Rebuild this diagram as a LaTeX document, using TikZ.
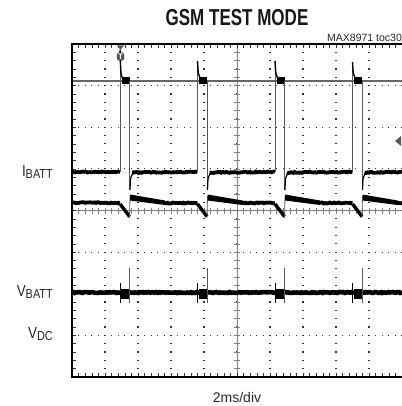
\documentclass[tikz,border=0pt]{standalone}
\usepackage{fontspec}
\setmainfont{Liberation Sans}
\usetikzlibrary{decorations.pathmorphing}

\tikzset{
  trace/.style={line width=3.8pt, decorate, decoration={random steps, segment length=1.5pt, amplitude=0.5pt}},
  edge/.style={gray!70!black, line width=0.8pt},
  lbl/.style={anchor=east, inner sep=0pt, text=black!85, font=\fontsize{16}{16}\selectfont, xscale=0.84}
}

\begin{document}
\begin{tikzpicture}[x=1pt,y=-1pt]
\useasboundingbox (0,0) rectangle (401,406);

\foreach \i in {1,...,9}
  \foreach \k in {0,...,40}
    \fill[black!80] (72+33*\i-0.6, 44+8.325*\k-0.6) rectangle ++(1.2,1.2);
\foreach \j in {1,...,7}
  \foreach \k in {0,...,50}
    \fill[black!80] (72+6.6*\k-0.6, 44+41.625*\j-0.6) rectangle ++(1.2,1.2);

\draw[gray, line width=0.8pt] (72,210.5) -- (402,210.5);
\draw[gray, line width=0.8pt] (237,44) -- (237,377);
\foreach \k in {1,...,49} {
  \draw[gray, line width=0.6pt] (72+6.6*\k,207.5) -- ++(0,6);
  \draw[black!80, line width=0.6pt] (72+6.6*\k,44) -- ++(0,4);
  \draw[black!80, line width=0.6pt] (72+6.6*\k,377) -- ++(0,-4);
}
\foreach \k in {1,...,39} {
  \draw[gray, line width=0.6pt] (234,44+8.325*\k) -- ++(6,0);
  \draw[black!80, line width=0.6pt] (72,44+8.325*\k) -- ++(4,0);
}

\draw[gray!80!black, line width=1.2pt] (72,81) -- (402,81);

\begin{scope}
\clip (72,44) rectangle (402,377);
\draw[trace] (72,172) -- (120,172);
\draw[trace] (72,202.5) -- (120,203);
\draw[trace, line width=4.6pt] (72,292.5) -- (402,292.5);
\foreach \p/\t in {120/50,197.5/61,275/61,352.5/62} {
  \draw[edge] (\p,172) -- (\p,\t);
  \draw[line width=1.4pt] (\p,\t) .. controls (\p+0.8,75) .. (\p+3,79);
  \fill (\p+1.5,77.5) rectangle (\p+9.5,84);
  \draw[edge] (\p+9.5,81) -- (\p+9.5,190);
  \draw[line width=1.2pt] (\p+10,190) .. controls (\p+10.5,176) .. (\p+14,173);
  \draw[trace] (\p+12,172.5) -- (\p+77.5,172);
  \draw[line width=3.4pt] (\p,204) -- (\p+9.5,216.5);
  \draw[edge] (\p+9.5,218) -- (\p+10,196);
  \fill (\p+10,194.5) -- (\p+45,200.5) -- (\p+45,205) -- (\p+10,200.5) -- cycle;
  \draw[trace] (\p+44,203) -- (\p+77.5,203);
  \fill (\p+1,289) rectangle (\p+9,299);
  \draw[line width=0.8pt] (\p,283) -- (\p,303);
  \draw[edge] (\p+9.5,268) -- (\p+9.5,303);
}
\end{scope}

\draw[line width=2pt] (402,44) -- (72,44) -- (72,377) -- (402,377);

\fill[gray!70!black] (117,45.5) -- (124,45.5) -- (120.5,50) -- cycle;
\node[draw=black!80, fill=gray!70!black, rounded corners=1.5pt, inner sep=1pt, text=white,
  font=\bfseries\fontsize{8}{8}\selectfont] (trig) at (120.5,56.5) {T};
\fill[gray!70!black] (395,141) -- (401,136) -- (401,146) -- cycle;

\node[font=\bfseries\fontsize{21}{21}\selectfont, xscale=0.81, yscale=1.1, text=black!90] (title) at (237,18) {GSM TEST MODE};
\node[anchor=west, inner sep=0pt, text=black!85, font=\fontsize{10.5}{10.5}\selectfont] (toc) at (327,38) {MAX8971 toc30};
\node[lbl] (ibatt) at (53,172) {I\raisebox{-0.3ex}{\fontsize{13}{13}\selectfont BATT}};
\node[lbl] (vbatt) at (53,292) {V\raisebox{-0.3ex}{\fontsize{13}{13}\selectfont BATT}};
\node[lbl] (vdc) at (53,334) {V\raisebox{-0.3ex}{\fontsize{13}{13}\selectfont DC}};
\node[text=black!85, font=\fontsize{14}{14}\selectfont] (tdiv) at (237,397) {2ms/div};
\end{tikzpicture}
\end{document}
